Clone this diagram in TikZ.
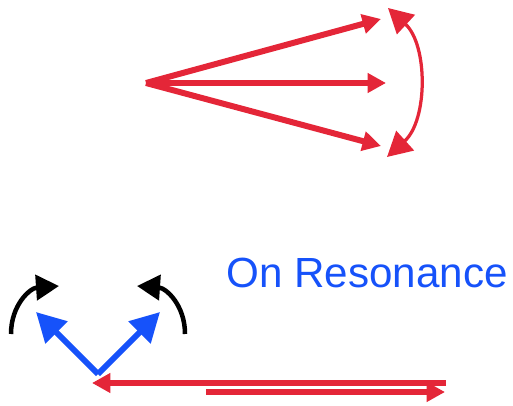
\documentclass[tikz,border=0pt]{standalone}
\usepackage{fontspec}
\setmainfont{Liberation Sans}
\usetikzlibrary{arrows.meta}
\definecolor{myred}{RGB}{228,38,56}
\definecolor{myblue}{RGB}{22,82,250}
\begin{document}
\begin{tikzpicture}[x=0.02cm,y=-0.02cm,
  redarrow/.style={draw=myred, line width=0.12cm, line cap=butt, -{Triangle[length=0.37cm,width=0.38cm]}},
  swing/.style={draw=myred, line width=0.065cm, {Triangle[length=0.49cm,width=0.52cm]}-{Triangle[length=0.49cm,width=0.52cm]}},
  bluearrow/.style={draw=myblue, line width=0.12cm, -{Triangle[length=0.58cm,width=0.6cm]}},
  blackarrow/.style={draw=black, line width=0.09cm, -{Triangle[length=0.46cm,width=0.5cm]}}]
\useasboundingbox (0,0) rectangle (513,405);
% top fan
\coordinate (o) at (146,83);
\coordinate (t1) at (381,19);
\coordinate (t2) at (386,83);
\coordinate (t3) at (381,146);
\draw[redarrow] (o) -- (t1);
\draw[redarrow] (o) -- (t2);
\draw[redarrow] (o) -- (t3);
\coordinate (s1) at (388,8);
\coordinate (s2) at (387,157);
\draw[swing] (s1) .. controls (428,45) and (428,120) .. (s2);
% label
\node[anchor=base west, inner sep=0, text=myblue, font=\fontsize{24}{28}\selectfont] (lab) at (226,287) {On Resonance};
% bottom
\coordinate (v) at (98,374);
\coordinate (bl) at (36,312);
\coordinate (br) at (160,312);
\draw[bluearrow] (v) -- (bl);
\draw[bluearrow] (v) -- (br);
\coordinate (al) at (11,334);
\coordinate (alt) at (59,286);
\coordinate (ar) at (185,334);
\coordinate (art) at (137,286);
\draw[blackarrow] (al) .. controls (11,305) and (30,288) .. (alt);
\draw[blackarrow] (ar) .. controls (185,305) and (166,288) .. (art);
\coordinate (r1s) at (446,383);
\coordinate (r1t) at (92,383);
\coordinate (r2s) at (206,392);
\coordinate (r2t) at (445,392);
\draw[redarrow] (r1s) -- (r1t);
\draw[redarrow] (r2s) -- (r2t);
\end{tikzpicture}
\end{document}
